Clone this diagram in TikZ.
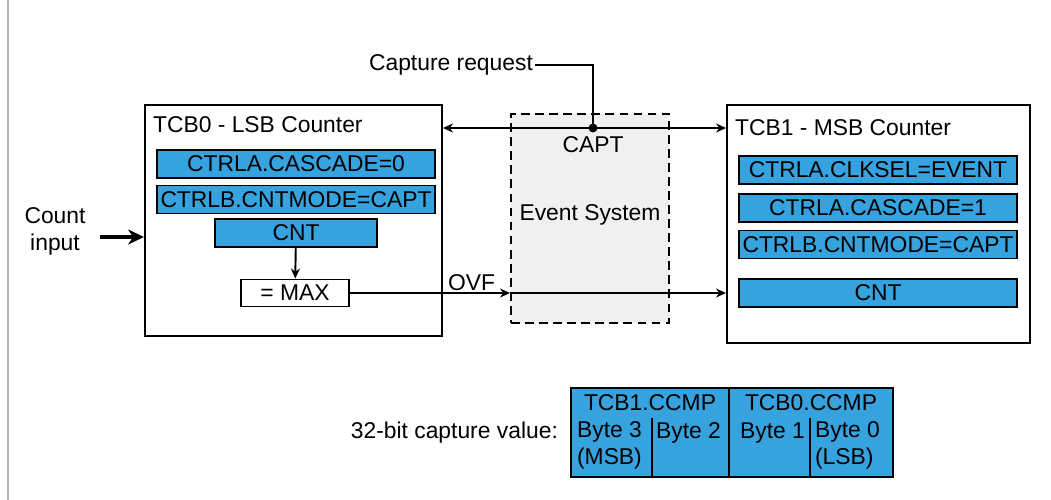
\documentclass[tikz,border=0pt]{standalone}
\usepackage{fontspec}
\setmainfont{Liberation Sans}
\usepackage{xcolor}
\usetikzlibrary{arrows.meta, positioning}
\definecolor{regblue}{RGB}{54,162,222}

\begin{document}
\begin{tikzpicture}[
    font=\fontsize{13}{15}\selectfont,
    block/.style={rectangle, draw, line width=1.1pt, inner sep=0pt},
    reg/.style={rectangle, draw, line width=1.1pt, fill=regblue, inner sep=0pt,
                minimum height=0.56cm},
    label/.style={inner sep=1pt},
    arrow/.style={-{Stealth[length=2mm,width=1.8mm]}, line width=1.1pt},
    twoway/.style={{Stealth[length=2mm,width=1.8mm]}-{Stealth[length=2mm,width=1.8mm]}, line width=1.1pt},
]
\useasboundingbox (0,0) rectangle (21.02,-10);
\draw[gray!60, line width=1.2pt] (0.16,0) -- (0.16,-10);

% counters and event system
\node[block, minimum width=5.94cm, minimum height=4.62cm] (lsb) at (5.87,-4.41) {};
\node[block, minimum width=6.06cm, minimum height=4.76cm] (msb) at (17.57,-4.48) {};
\node[block, dash pattern=on 5pt off 3pt, fill=gray!12, minimum width=3.16cm, minimum height=4.18cm,
      text depth=0.22cm] (evsys) at (11.8,-4.37) {Event System};

\node[label, anchor=west] (lsbtitle) at (3.02,-2.5) {TCB0 - LSB Counter};
\node[label, anchor=west] (msbtitle) at (14.66,-2.56) {TCB1 - MSB Counter};

% TCB0 registers
\node[reg, minimum width=5.56cm] (lcasc) at (5.92,-3.28) {CTRLA.CASCADE=0};
\node[reg, minimum width=5.56cm] (lmode) at (5.92,-3.99) {CTRLB.CNTMODE=CAPT};
\node[reg, minimum width=3.24cm] (lcnt)  at (5.92,-4.66) {CNT};
\node[block, fill=white, minimum width=2.16cm, minimum height=0.54cm] (lmax) at (5.9,-5.86) {= MAX};

% TCB1 registers
\node[reg, minimum width=5.56cm] (mclk)  at (17.56,-3.4)  {CTRLA.CLKSEL=EVENT};
\node[reg, minimum width=5.56cm] (mcasc) at (17.56,-4.16) {CTRLA.CASCADE=1};
\node[reg, minimum width=5.56cm] (mmode) at (17.56,-4.89) {CTRLB.CNTMODE=CAPT};
\node[reg, minimum width=5.56cm] (mcnt)  at (17.56,-5.86) {CNT};

% count input
\node[label, align=center] (cin) at (1.1,-4.63) {Count\\input};
\draw[-{Stealth[length=3.2mm,width=3mm]}, line width=2pt]
    ([xshift=0.25cm,yshift=-0.11cm]cin.east) -- ([yshift=-0.11cm]cin.east -| lsb.west);

% capture request
\coordinate (capt) at (11.86,-2.56);
\node[label, anchor=east] (req) at (10.7,-1.3) {Capture request};
\draw[line width=1.1pt] (req.east) -| (capt);
\draw[twoway] (capt -| lsb.east) -- (capt -| msb.west);
\fill (capt) circle (0.09);
\node[label] (captlbl) at (11.86,-2.9) {CAPT};

% overflow
\draw[arrow] (lcnt) -- (lmax);
\draw[arrow] (lmax) -- node[above, pos=0.76, label] {OVF} (lmax -| evsys.west);
\draw[arrow] (lmax -| evsys.west) -- (lmax -| msb.west);

% capture value
\node[label, anchor=east] (cvtext) at (11.2,-8.66) {32-bit capture value:};
\node[block, fill=regblue, minimum width=6.44cm, minimum height=1.78cm] (cval) at (14.64,-8.65) {};
\draw[line width=1.1pt] (14.58,-7.76) -- (14.58,-9.54);
\draw[line width=1.1pt] (13.04,-8.36) -- (13.04,-9.54);
\draw[line width=1.1pt] (16.2,-8.36) -- (16.2,-9.54);
\node[label] (ccmp1) at (13.0,-8.06) {TCB1.CCMP};
\node[label] (ccmp0) at (16.22,-8.06) {TCB0.CCMP};
\node[label, anchor=west, align=left] (byte3) at (11.5,-8.91) {Byte 3\\(MSB)};
\node[label, anchor=west] (byte2) at (13.08,-8.66) {Byte 2};
\node[label, anchor=west] (byte1) at (14.76,-8.66) {Byte 1};
\node[label, anchor=west, align=left] (byte0) at (16.26,-8.91) {Byte 0\\(LSB)};
\end{tikzpicture}
\end{document}
